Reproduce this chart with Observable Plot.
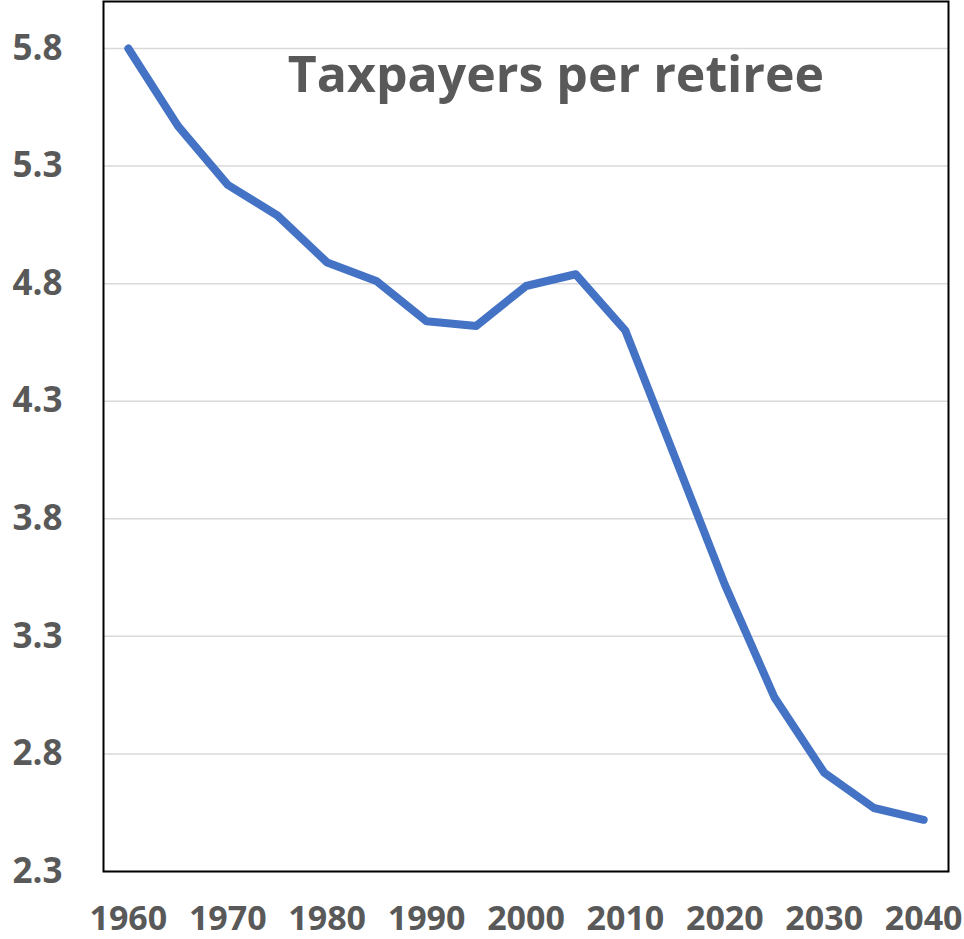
<!DOCTYPE html>
<html>
<head>
<meta charset="utf-8">
<script src="https://cdn.jsdelivr.net/npm/d3@7"></script>
<script src="https://cdn.jsdelivr.net/npm/@observablehq/plot@0.6"></script>
<style>
  html, body { margin: 0; padding: 0; background: #fff; }
  #chart svg { display: block; }
</style>
</head>
<body>
<div id="chart"></div>
<script>
const years = [1960, 1965, 1970, 1975, 1980, 1985, 1990, 1995, 2000, 2005, 2010, 2015, 2020, 2025, 2030, 2035, 2040];
const taxpayersPerRetiree = [5.8, 5.47, 5.22, 5.09, 4.89, 4.81, 4.64, 4.62, 4.79, 4.84, 4.60, 4.06, 3.52, 3.04, 2.72, 2.57, 2.52];
const xTicks = [1960, 1970, 1980, 1990, 2000, 2010, 2020, 2030, 2040];
const yTicks = [2.3, 2.8, 3.3, 3.8, 4.3, 4.8, 5.3, 5.8];
const title = "Taxpayers per retiree";

const data = years.map((y, i) => ({year: y, value: taxpayersPerRetiree[i]}));

const chart = Plot.plot({
  width: 964,
  height: 939,
  marginLeft: 103,
  marginRight: 16,
  marginTop: 1,
  marginBottom: 68,
  style: {fontFamily: "'Open Sans', sans-serif", background: "#fff"},
  x: {domain: [1957.5, 2042.5], label: null},
  y: {domain: [2.3, 6.0], label: null},
  marks: [
    Plot.gridY(yTicks, {stroke: "#d9d9d9", strokeOpacity: 1, strokeWidth: 1.5}),
    Plot.frame({stroke: "#000", strokeWidth: 2}),
    Plot.axisY(yTicks, {tickSize: 0, tickPadding: 41, tickFormat: d => d.toFixed(1), fontSize: 35, fontWeight: 700, fill: "#595959", label: null}),
    Plot.axisX(xTicks, {tickSize: 0, tickPadding: 34, tickFormat: d => String(d), fontSize: 34, fontWeight: 700, fill: "#595959", label: null}),
    Plot.line(data, {x: "year", y: "value", stroke: "#4472C4", strokeWidth: 8, strokeLinecap: "round", strokeLinejoin: "round"}),
    Plot.text([title], {frameAnchor: "top", lineAnchor: "middle", dx: 30, dy: 74, fontSize: 50, fontWeight: 700, fill: "#595959"})
  ]
});
document.getElementById("chart").appendChild(chart);
</script>
</body>
</html>
